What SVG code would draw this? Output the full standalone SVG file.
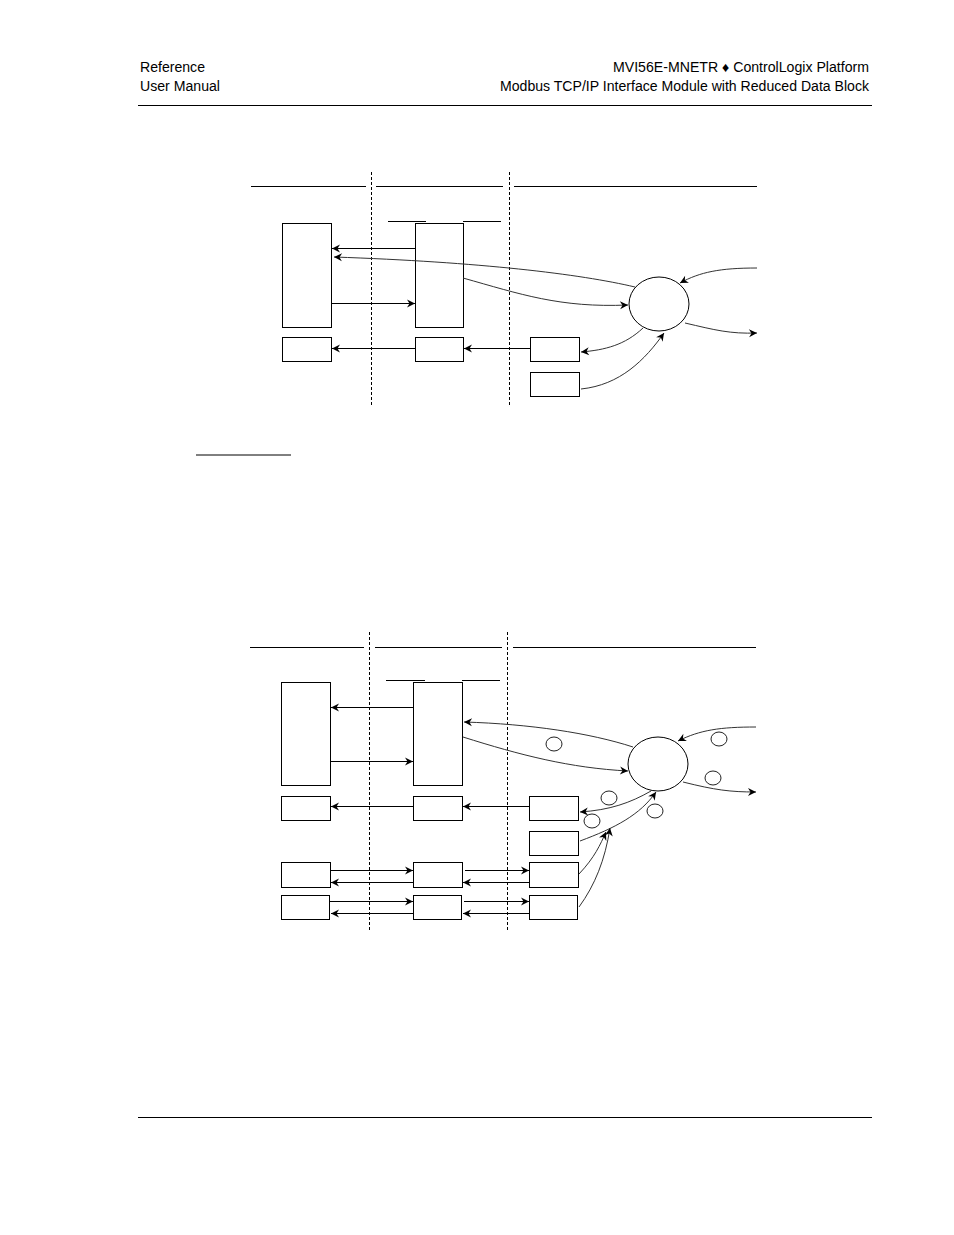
<svg xmlns="http://www.w3.org/2000/svg" width="954" height="1235" viewBox="0 0 954 1235">
<defs>
<marker id="ah" markerUnits="userSpaceOnUse" markerWidth="10" markerHeight="10" viewBox="-1 -5 10 10" refX="8" refY="0" orient="auto">
<path d="M0,-4 L8,0 L0,4 L2.5,0 z" fill="#000"/>
</marker>
<style>
.hdr{font-family:"Liberation Sans",Arial,sans-serif;font-size:14px;fill:#000}
.ln{stroke:#000;stroke-width:1;fill:none}
.dash{stroke:#000;stroke-width:1;stroke-dasharray:3,2;fill:none}
.box{fill:#fff;stroke:#000;stroke-width:1}
.arr{stroke:#000;stroke-width:1;fill:none;marker-end:url(#ah)}
.cur{stroke:#333;stroke-width:1;fill:none;marker-end:url(#ah)}
.cl{stroke:#333;stroke-width:1;fill:none}
.sc{fill:#fff;stroke:#222;stroke-width:1}
</style>
</defs>
<rect width="954" height="1235" fill="#fff"/>
<g id="header">
<text class="hdr" x="140" y="72" textLength="65" lengthAdjust="spacingAndGlyphs">Reference</text>
<text class="hdr" x="140" y="91" textLength="80" lengthAdjust="spacingAndGlyphs">User Manual</text>
<text class="hdr" x="613" y="72" textLength="256" lengthAdjust="spacingAndGlyphs">MVI56E-MNETR ♦ ControlLogix Platform</text>
<text class="hdr" x="500" y="91" textLength="369" lengthAdjust="spacingAndGlyphs">Modbus TCP/IP Interface Module with Reduced Data Block</text>
<line class="ln" x1="138" y1="105.5" x2="872" y2="105.5"/>
<line class="ln" x1="138" y1="1117.5" x2="872" y2="1117.5"/>
</g>
<g id="diagram1">
<g id="d1-guides">
<line class="ln" x1="251" y1="186.5" x2="366" y2="186.5"/>
<line class="ln" x1="376" y1="186.5" x2="503" y2="186.5"/>
<line class="ln" x1="514" y1="186.5" x2="757" y2="186.5"/>
<line class="dash" x1="371.5" y1="172" x2="371.5" y2="406"/>
<line class="dash" x1="509.5" y1="172" x2="509.5" y2="406"/>
<line class="ln" x1="388" y1="221.5" x2="426" y2="221.5"/>
<line class="ln" x1="463" y1="221.5" x2="501" y2="221.5"/>
</g>
<g id="d1-A"><rect class="box" x="282.5" y="223.5" width="49" height="104"/></g>
<g id="d1-B"><rect class="box" x="415.5" y="223.5" width="48" height="104"/></g>
<g id="d1-A2"><rect class="box" x="282.5" y="337.5" width="49" height="24"/></g>
<g id="d1-B2"><rect class="box" x="415.5" y="337.5" width="48" height="24"/></g>
<g id="d1-C"><rect class="box" x="530.5" y="337.5" width="49" height="24"/></g>
<g id="d1-D"><rect class="box" x="530.5" y="372.5" width="49" height="24"/></g>
<g id="d1-circle"><ellipse class="box" cx="659" cy="304" rx="30" ry="27"/></g>
<g id="d1-connectors">
<line class="arr" x1="415" y1="248.5" x2="332" y2="248.5"/>
<line class="arr" x1="332" y1="303.5" x2="415" y2="303.5"/>
<line class="arr" x1="415" y1="348.5" x2="332" y2="348.5"/>
<line class="arr" x1="530" y1="348.5" x2="464" y2="348.5"/>
<path class="cur" d="M635,287 C580,274 480,262 334,257"/>
<path class="cur" d="M463,278 C520,294 560,308 628,305"/>
<path class="cur" d="M643,328 C625,345 605,350 581,352"/>
<path class="cur" d="M581,389 C620,385 645,360 664,333"/>
<path class="cur" d="M757,268 C720,268 700,272 680,283"/>
<path class="cur" d="M685,323 C715,330 730,334 757,333"/>
</g>
</g>
<g id="underline"><line class="ln" x1="196" y1="455" x2="291" y2="455"/></g>
<g id="diagram2">
<g id="d2-guides">
<line class="ln" x1="250" y1="647.5" x2="364" y2="647.5"/>
<line class="ln" x1="375" y1="647.5" x2="502" y2="647.5"/>
<line class="ln" x1="513" y1="647.5" x2="756" y2="647.5"/>
<line class="dash" x1="369.5" y1="632" x2="369.5" y2="930"/>
<line class="dash" x1="507.5" y1="632" x2="507.5" y2="930"/>
<line class="ln" x1="386" y1="680.5" x2="425" y2="680.5"/>
<line class="ln" x1="462" y1="680.5" x2="500" y2="680.5"/>
</g>
<g id="d2-A"><rect class="box" x="281.5" y="682.5" width="49" height="103"/></g>
<g id="d2-B"><rect class="box" x="413.5" y="682.5" width="49" height="103"/></g>
<g id="d2-A2"><rect class="box" x="281.5" y="796.5" width="49" height="24"/></g>
<g id="d2-B2"><rect class="box" x="413.5" y="796.5" width="49" height="24"/></g>
<g id="d2-C"><rect class="box" x="529.5" y="796.5" width="49" height="24"/></g>
<g id="d2-D"><rect class="box" x="529.5" y="831.5" width="49" height="24"/></g>
<g id="d2-AE"><rect class="box" x="281.5" y="862.5" width="49" height="25"/></g>
<g id="d2-BE"><rect class="box" x="413.5" y="862.5" width="49" height="25"/></g>
<g id="d2-CE"><rect class="box" x="529.5" y="862.5" width="49" height="25"/></g>
<g id="d2-AF"><rect class="box" x="281.5" y="895.5" width="48" height="24"/></g>
<g id="d2-BF"><rect class="box" x="413.5" y="895.5" width="48" height="24"/></g>
<g id="d2-CF"><rect class="box" x="529.5" y="895.5" width="48" height="24"/></g>
<g id="d2-circle"><ellipse class="box" cx="658" cy="764" rx="30" ry="27"/></g>
<g id="d2-connectors">
<line class="arr" x1="413" y1="707.5" x2="331" y2="707.5"/>
<line class="arr" x1="331" y1="761.5" x2="413" y2="761.5"/>
<line class="arr" x1="413" y1="806.5" x2="331" y2="806.5"/>
<line class="arr" x1="529" y1="806.5" x2="463" y2="806.5"/>
<line class="arr" x1="331" y1="870.5" x2="413" y2="870.5"/>
<line class="arr" x1="413" y1="882.5" x2="331" y2="882.5"/>
<line class="arr" x1="465" y1="870.5" x2="529" y2="870.5"/>
<line class="arr" x1="529" y1="882.5" x2="463" y2="882.5"/>
<line class="arr" x1="330" y1="901.5" x2="413" y2="901.5"/>
<line class="arr" x1="413" y1="913.5" x2="331" y2="913.5"/>
<line class="arr" x1="464" y1="901.5" x2="529" y2="901.5"/>
<line class="arr" x1="529" y1="913.5" x2="463" y2="913.5"/>
<path class="cur" d="M633,747 C590,733 530,724 464,722"/>
<path class="cur" d="M463,737 C520,755 570,768 628,771"/>
<path class="cur" d="M651,791 C630,803 610,810 580,812"/>
<path class="cur" d="M580,841 C615,828 640,815 656,792"/>
<path class="cur" d="M579,874 C595,857 600,845 606,832"/>
<path class="cur" d="M579,907 C595,885 605,860 610,828"/>
<path class="cur" d="M756,727 C720,727 700,730 678,741"/>
<path class="cur" d="M683,782 C715,790 730,792 756,792"/>
</g>
<g id="d2-small-circles">
<ellipse class="sc" cx="554" cy="744" rx="8" ry="7"/>
<ellipse class="sc" cx="719" cy="739" rx="8" ry="7"/>
<ellipse class="sc" cx="713" cy="778" rx="8" ry="7"/>
<ellipse class="sc" cx="609" cy="798" rx="8" ry="7"/>
<ellipse class="sc" cx="592" cy="821" rx="8" ry="7"/>
<ellipse class="sc" cx="655" cy="811" rx="8" ry="7"/>
</g>
</g>
</svg>
